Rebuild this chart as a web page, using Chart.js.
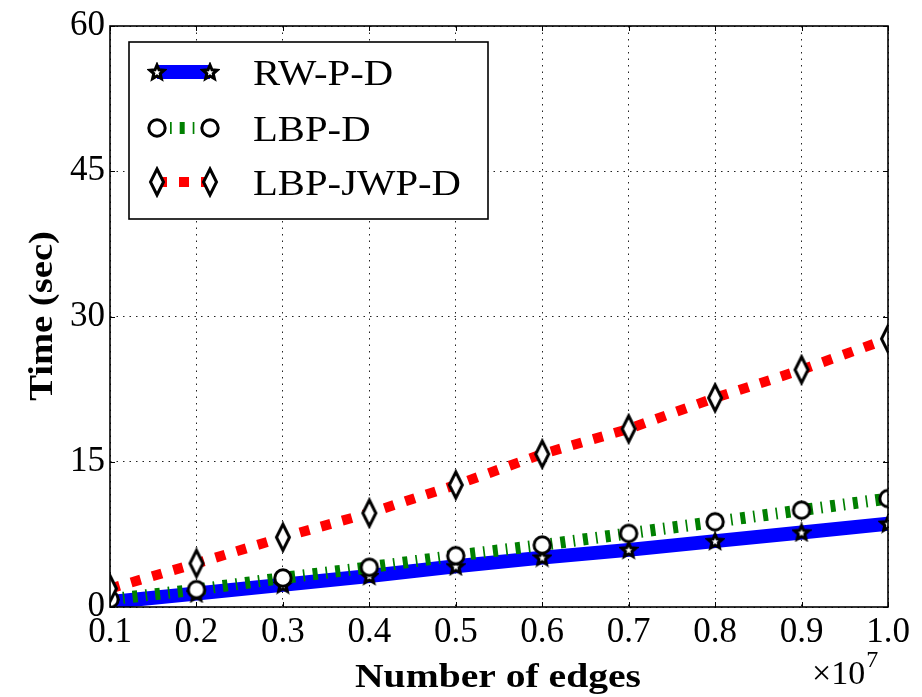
<!DOCTYPE html>
<html>
<head>
<meta charset="utf-8">
<script src="https://cdn.jsdelivr.net/npm/chart.js@4.4.1/dist/chart.umd.min.js"></script>
<style>
  html, body { margin: 0; padding: 0; background: #ffffff; }
  #wrap { width: 922px; height: 697px; position: relative; }
</style>
</head>
<body>
<div id="wrap"><canvas id="c" width="922" height="697"></canvas></div>
<script>
// ---- data ----
const xLabels = ['0.1', '0.2', '0.3', '0.4', '0.5', '0.6', '0.7', '0.8', '0.9', '1.0'];
const rwpd    = [0.5, 1.4, 2.3, 3.2, 4.2, 5.1, 5.9, 6.8, 7.7, 8.6];
const lbpd    = [0.8, 1.8, 3.0, 4.1, 5.3, 6.4, 7.6, 8.8, 10.0, 11.2];
const lbpjwpd = [1.9, 4.5, 7.2, 9.7, 12.6, 15.8, 18.4, 21.6, 24.5, 27.7];
const seriesNames = ['RW-P-D', 'LBP-D', 'LBP-JWP-D'];
const yTicks = [0, 15, 30, 45, 60];
const xTitle = 'Number of edges';
const yTitle = 'Time (sec)';
const xMultiplier = ['\u00d710', '7'];

const SERIF = '"Liberation Serif", "DejaVu Serif", serif';

// ---- marker images ----
function makeCanvas(w, h, draw) {
  const c = document.createElement('canvas');
  c.width = w; c.height = h;
  const g = c.getContext('2d');
  draw(g, w, h);
  return c;
}
const starImg = makeCanvas(20, 20, (g, w, h) => {
  const cx = w / 2, cy = h / 2 + 0.5, R = 7.5, r = 3.4;
  g.beginPath();
  for (let i = 0; i < 10; i++) {
    const a = -Math.PI / 2 + i * Math.PI / 5;
    const rr = i % 2 === 0 ? R : r;
    const px = cx + rr * Math.cos(a), py = cy + rr * Math.sin(a);
    if (i === 0) g.moveTo(px, py); else g.lineTo(px, py);
  }
  g.closePath();
  g.fillStyle = '#ffffff'; g.fill();
  g.lineWidth = 3; g.strokeStyle = '#000000'; g.lineJoin = 'miter'; g.stroke();
});
const circleImg = makeCanvas(24, 24, (g, w, h) => {
  g.beginPath();
  g.arc(w / 2, h / 2, 8.2, 0, Math.PI * 2);
  g.fillStyle = '#ffffff'; g.fill();
  g.lineWidth = 3; g.strokeStyle = '#000000'; g.stroke();
});
const diamondImg = makeCanvas(20, 32, (g, w, h) => {
  g.beginPath();
  g.moveTo(w / 2, 3); g.lineTo(w / 2 + 6.5, h / 2); g.lineTo(w / 2, h - 3); g.lineTo(w / 2 - 6.5, h / 2);
  g.closePath();
  g.fillStyle = '#ffffff'; g.fill();
  g.lineWidth = 3; g.strokeStyle = '#000000'; g.lineJoin = 'miter'; g.stroke();
});

// ---- helper for text ----
function fitText(ctx, text, x, y, font, sx, align, baseline) {
  ctx.save();
  ctx.font = font;
  ctx.textAlign = align || 'left';
  ctx.textBaseline = baseline || 'alphabetic';
  ctx.translate(x, y);
  ctx.scale(sx, 1);
  ctx.fillStyle = '#000000';
  ctx.fillText(text, 0, 0);
  ctx.restore();
}

// ---- decoration plugin ----
const decor = {
  id: 'decor',
  afterDatasetsDraw(chart) {
    const ctx = chart.ctx;
    const a = chart.chartArea;
    const xs = chart.scales.x, ys = chart.scales.y;
    ctx.save();
    // inward tick marks on all four sides
    ctx.strokeStyle = '#000'; ctx.lineWidth = 1; ctx.setLineDash([]);
    const tl = 5;
    for (let i = 0; i < xLabels.length; i++) {
      const px = Math.round(xs.getPixelForValue(i)) + 0.5;
      ctx.beginPath();
      ctx.moveTo(px, a.bottom); ctx.lineTo(px, a.bottom - tl);
      ctx.moveTo(px, a.top); ctx.lineTo(px, a.top + tl);
      ctx.stroke();
    }
    for (const v of yTicks) {
      const py = Math.round(ys.getPixelForValue(v)) + 0.5;
      ctx.beginPath();
      ctx.moveTo(a.left, py); ctx.lineTo(a.left + tl, py);
      ctx.moveTo(a.right, py); ctx.lineTo(a.right - tl, py);
      ctx.stroke();
    }
    // frame
    ctx.lineWidth = 1.6;
    ctx.strokeRect(a.left, a.top, a.right - a.left, a.bottom - a.top);

    // legend
    const box = { l: 129, t: 42, r: 488, b: 219 };
    ctx.fillStyle = '#ffffff';
    ctx.fillRect(box.l, box.t, box.r - box.l, box.b - box.t);
    ctx.lineWidth = 1.6; ctx.strokeStyle = '#000';
    ctx.strokeRect(box.l, box.t, box.r - box.l, box.b - box.t);
    const rows = [72, 128, 182];
    const ds = chart.data.datasets;
    [0, 1, 2].forEach((di, k) => {
      const d = ds[di];
      const y = rows[k];
      const x1 = 157, x2 = 210;
      ctx.save();
      ctx.strokeStyle = d.borderColor;
      ctx.lineWidth = d.borderWidth;
      ctx.setLineDash(d.borderDash || []);
      ctx.lineCap = 'butt';
      ctx.beginPath(); ctx.moveTo(x1, y); ctx.lineTo(x2, y); ctx.stroke();
      ctx.restore();
      const img = d.pointStyle;
      ctx.drawImage(img, x1 - img.width / 2, y - img.height / 2);
      ctx.drawImage(img, x2 - img.width / 2, y - img.height / 2);
      fitText(ctx, d.label, 253, y + 13, '36px ' + SERIF, 1.13, 'left', 'alphabetic');
    });

    // axis titles
    fitText(ctx, xTitle, 498, 687, 'bold 33px ' + SERIF, 1.2, 'center', 'alphabetic');
    ctx.save();
    ctx.translate(52, 316);
    ctx.rotate(-Math.PI / 2);
    fitText(ctx, yTitle, 0, 0, 'bold 33px ' + SERIF, 1.17, 'center', 'alphabetic');
    ctx.restore();
    // multiplier
    fitText(ctx, xMultiplier[0], 812, 684, '34px ' + SERIF, 1.0, 'left', 'alphabetic');
    ctx.font = '34px ' + SERIF;
    const w = ctx.measureText(xMultiplier[0]).width;
    fitText(ctx, xMultiplier[1], 812 + w + 1, 667, '24px ' + SERIF, 1.0, 'left', 'alphabetic');
    ctx.restore();
  }
};

const gridDash = [1.5, 5];

new Chart(document.getElementById('c'), {
  type: 'line',
  data: {
    labels: xLabels,
    datasets: [
      {
        label: seriesNames[0], data: rwpd,
        borderColor: '#0000ff', backgroundColor: '#0000ff', borderWidth: 14,
        pointStyle: starImg, pointRadius: 8, pointHoverRadius: 8,
        tension: 0, clip: 0, order: 2, fill: false
      },
      {
        label: seriesNames[1], data: lbpd,
        borderColor: '#008000', backgroundColor: '#008000', borderWidth: 12,
        borderDash: [5, 8, 1.7, 8], borderCapStyle: 'butt',
        pointStyle: circleImg, pointRadius: 9, pointHoverRadius: 9,
        tension: 0, clip: 0, order: 1, fill: false
      },
      {
        label: seriesNames[2], data: lbpjwpd,
        borderColor: '#ff0000', backgroundColor: '#ff0000', borderWidth: 10,
        borderDash: [10, 12], borderCapStyle: 'butt',
        pointStyle: diamondImg, pointRadius: 10, pointHoverRadius: 10,
        tension: 0, clip: 0, order: 0, fill: false
      }
    ]
  },
  options: {
    responsive: false,
    animation: false,
    events: [],
    layout: { padding: { left: 0, right: 34, top: 23, bottom: 0 } },
    plugins: { legend: { display: false }, tooltip: { enabled: false }, title: { display: false } },
    scales: {
      x: {
        type: 'category',
        offset: false,
        grid: { display: true, color: '#222222', lineWidth: 1, drawTicks: false },
        border: { display: false, dash: gridDash },
        ticks: {
          color: '#000000', padding: 5, maxRotation: 0, autoSkip: false,
          font: { family: SERIF, size: 35 }
        },
        afterFit(scale) { scale.height = 90; }
      },
      y: {
        min: 0, max: 60,
        grid: { display: true, color: '#222222', lineWidth: 1, drawTicks: false },
        border: { display: false, dash: gridDash },
        ticks: {
          stepSize: 15, color: '#000000', padding: 5,
          font: { family: SERIF, size: 35 },
          callback: (v) => String(v)
        },
        afterFit(scale) { scale.width = 110; }
      }
    }
  },
  plugins: [decor]
});
</script>
</body>
</html>
